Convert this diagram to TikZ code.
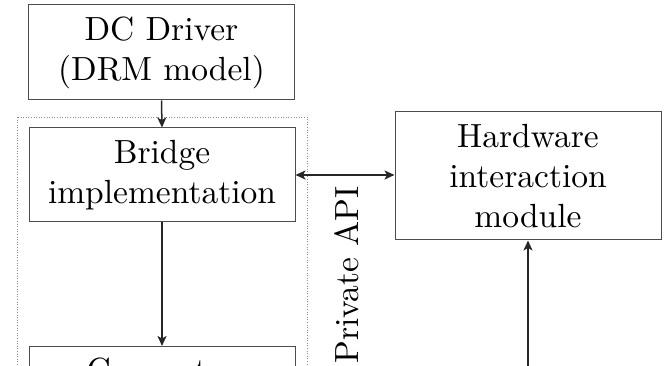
\documentclass[tikz,border=0pt]{standalone}
\usepackage{fontspec}
\usetikzlibrary{arrows.meta}
% Latin Modern at its 10pt design size, scaled up
\newfontfamily\lmten{lmroman10-regular}[Extension=.otf]
\begin{document}
\begin{tikzpicture}[x=1pt,y=-1pt,
  label text/.style={font=\lmten\fontsize{33.5}{40}\selectfont},
  box/.style={label text, draw=black!70, line width=1pt, minimum width=266pt, align=center,
    inner sep=0pt},
  tip/.style={Stealth[length=10pt,width=9pt,inset=2.5pt]},
  flow/.style={line width=1.5pt, draw=black!85, -{Stealth[length=10pt,width=9pt,inset=2.5pt]}},
  flowboth/.style={line width=1.5pt, draw=black!85, {Stealth[length=10pt,width=9pt,inset=2.5pt]}-{Stealth[length=10pt,width=9pt,inset=2.5pt]}},
  group/.style={draw=black!45, dotted, line width=0.6pt}]
\useasboundingbox (0,0) rectangle (667,366);
\clip (0,0) rectangle (667,366);

% dotted frame around the bridge and the connector
\draw[group] (17,117) rectangle (307,470);

\node[box, minimum height=95pt] (dc) at (161.5,52.5) {DC Driver\\(DRM model)};
\node[box, minimum height=94pt] (bridge) at (162,175) {Bridge\\implementation};
\node[box, text height=23pt, text depth=55pt, inner ysep=12pt, anchor=north] (conn) at (162,346) {Connector};
\node[box, minimum height=128pt] (hw) at (528,176) {Hardware\\interaction\\module};

\node[label text, rotate=90, anchor=base] (api) at (358,275) {Private API};

\coordinate (hwin) at (528,380);

\draw[flow] (dc.south) -- (bridge.north);
\draw[flow] (bridge.south) -- (conn.north);
\draw[flowboth] (bridge.east) -- (bridge.east -| hw.west);
\draw[flow] (hwin) -- (hw.south);
\end{tikzpicture}
\end{document}
